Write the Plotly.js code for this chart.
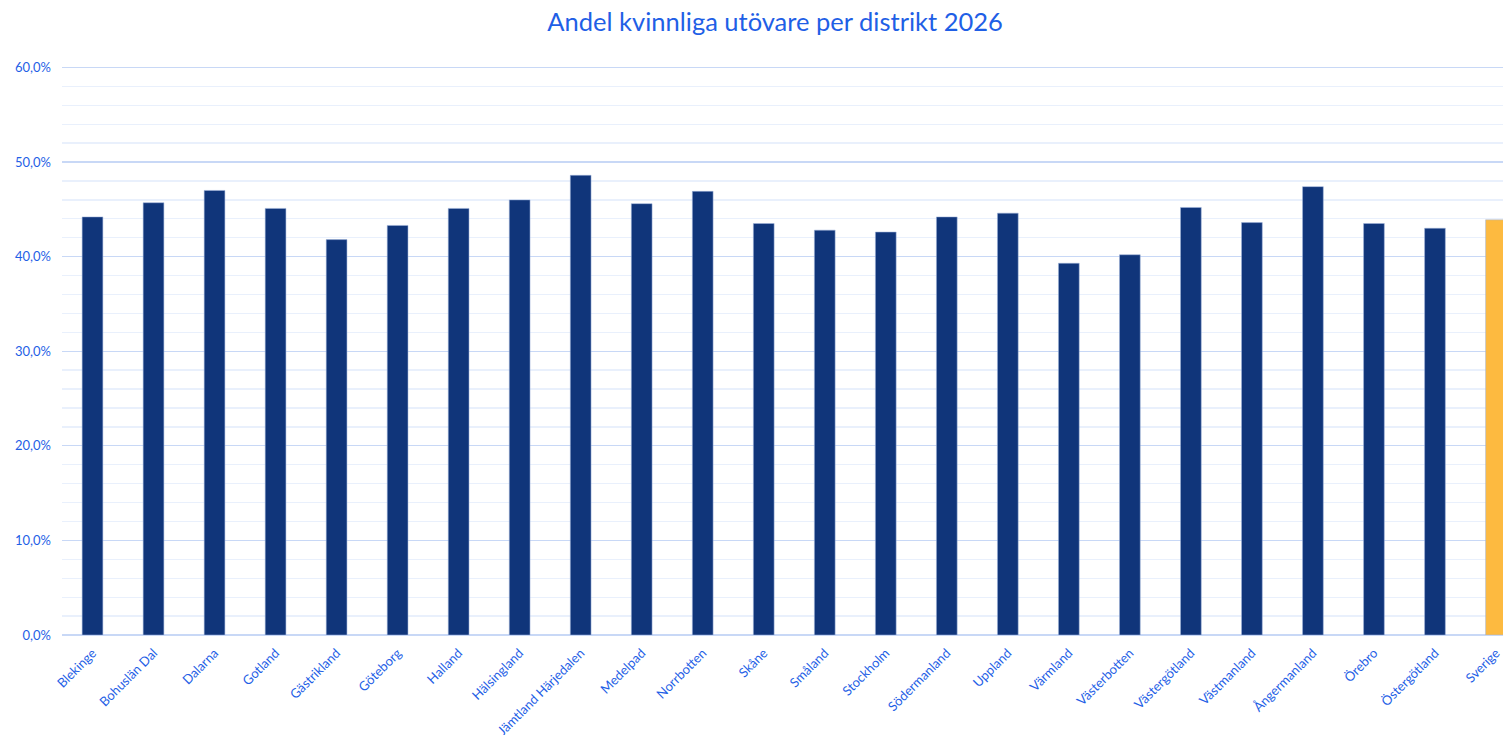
<!DOCTYPE html>
<html>
<head>
<meta charset="utf-8">
<script src="https://cdn.plot.ly/plotly-3.0.1.min.js"></script>
<style>
html, body { margin: 0; padding: 0; background: #ffffff; overflow: hidden; }
#chart { width: 1503px; height: 735px; }
</style>
</head>
<body>
<div id="chart"></div>
<script>
const categories = [
  "Blekinge", "Bohuslän Dal", "Dalarna", "Gotland", "Gästrikland", "Göteborg",
  "Halland", "Hälsingland", "Jämtland Härjedalen", "Medelpad", "Norrbotten", "Skåne",
  "Småland", "Stockholm", "Södermanland", "Uppland", "Värmland", "Västerbotten",
  "Västergötland", "Västmanland", "Ångermanland", "Örebro", "Östergötland", "Sverige"
];
const shareWomen = [
  44.2, 45.7, 47.0, 45.1, 41.8, 43.3,
  45.1, 46.0, 48.6, 45.6, 46.9, 43.5,
  42.8, 42.6, 44.2, 44.6, 39.3, 40.2,
  45.2, 43.6, 47.4, 43.5, 43.0, 43.9
];
const yTickValues = [0, 10, 20, 30, 40, 50, 60];
const yTickLabels = yTickValues.map(v => v.toFixed(1).replace(".", ",") + "%");

const districtColor = "#10357a";
const totalColor = "#fdba40";
const textBlue = "#1f5fe6";

const barColors = categories.map(c => c === "Sverige" ? totalColor : districtColor);

const trace = {
  type: "bar",
  x: categories,
  y: shareWomen,
  marker: { color: barColors, line: { color: "rgba(160,180,220,0.9)", width: 0.6 } },
  width: 0.34,
  hoverinfo: "x+y"
};

const layout = {
  width: 1503,
  height: 735,
  paper_bgcolor: "#ffffff",
  plot_bgcolor: "#ffffff",
  margin: { l: 62, r: 0, t: 58, b: 100, pad: 0 },
  font: { family: "Lato, 'Open Sans', sans-serif", color: textBlue, size: 13 },
  title: {
    text: "Andel kvinnliga utövare per distrikt 2026",
    font: { family: "Lato, 'Open Sans', sans-serif", size: 25.5, color: textBlue },
    x: 0.5157, xanchor: "center", y: 0.97, yanchor: "middle", yref: "container"
  },
  showlegend: false,
  xaxis: {
    type: "category",
    range: [-0.5, 23.115],
    tickangle: -45,
    tickfont: { size: 13, color: textBlue },
    showgrid: false,
    showline: false,
    zeroline: false,
    ticks: "",
    ticklabelstandoff: 7,
    fixedrange: true
  },
  yaxis: {
    range: [0, 61],
    tickmode: "array",
    tickvals: yTickValues,
    ticktext: yTickLabels,
    tickfont: { size: 13, color: textBlue },
    showgrid: true,
    gridcolor: "#c8d8f6",
    gridwidth: 1.3,
    minor: { tickmode: "array", tickvals: [2,4,6,8,12,14,16,18,22,24,26,28,32,34,36,38,42,44,46,48,52,54,56,58], showgrid: true, gridcolor: "#e9f0fc", gridwidth: 1.3 },
    zeroline: true,
    zerolinecolor: "#c8d8f6",
    zerolinewidth: 1.5,
    showline: false,
    ticks: "",
    ticklabelstandoff: 10,
    fixedrange: true
  }
};

Plotly.newPlot("chart", [trace], layout, { displayModeBar: false, staticPlot: true });
</script>
</body>
</html>
